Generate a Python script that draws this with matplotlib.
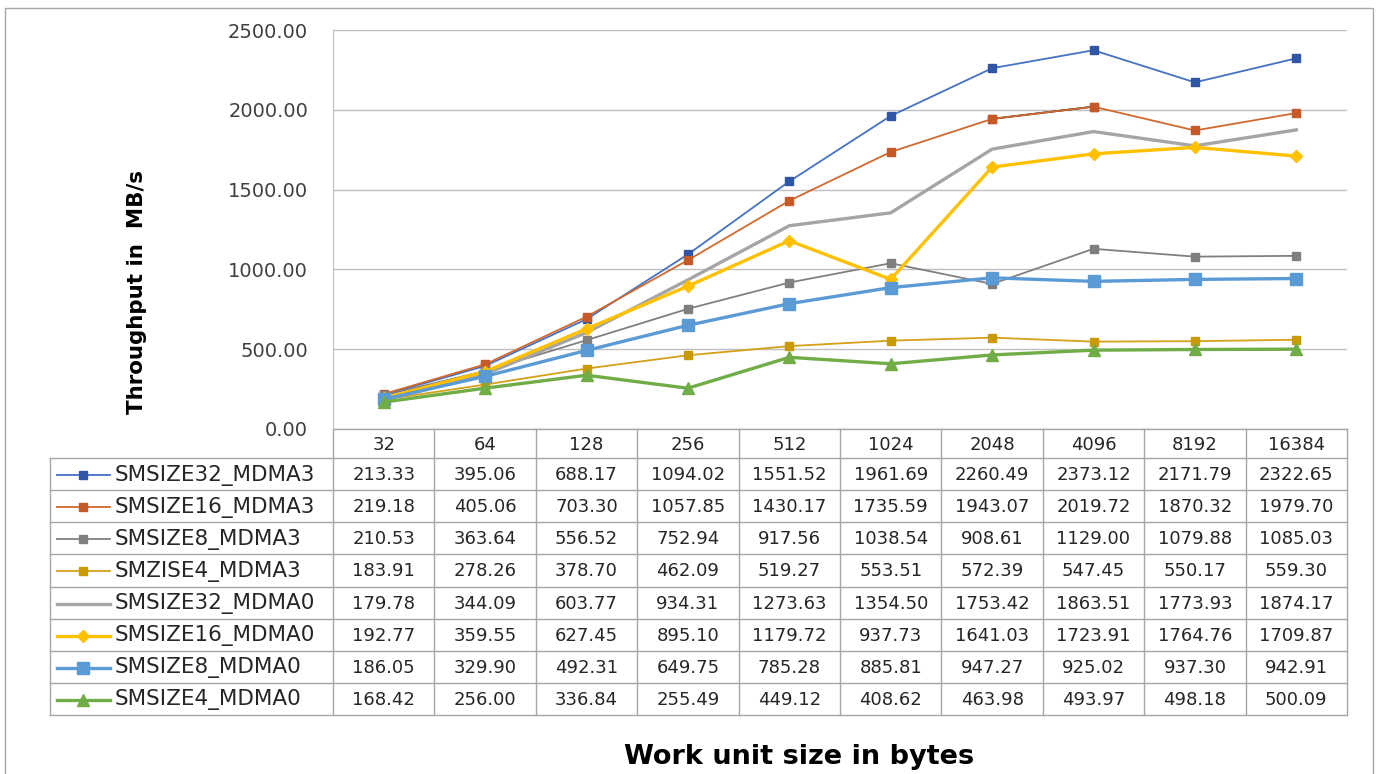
import matplotlib
matplotlib.use("Agg")
import matplotlib.pyplot as plt
from matplotlib.lines import Line2D
from matplotlib.patches import Rectangle

plt.rcParams['font.family'] = ['DejaVu Sans']

sizes = ['32', '64', '128', '256', '512', '1024', '2048', '4096', '8192', '16384']
names = ['SMSIZE32_MDMA3', 'SMSIZE16_MDMA3', 'SMSIZE8_MDMA3', 'SMZISE4_MDMA3',
         'SMSIZE32_MDMA0', 'SMSIZE16_MDMA0', 'SMSIZE8_MDMA0', 'SMSIZE4_MDMA0']

smsize32_mdma3 = [213.33, 395.06, 688.17, 1094.02, 1551.52, 1961.69, 2260.49, 2373.12, 2171.79, 2322.65]
smsize16_mdma3 = [219.18, 405.06, 703.30, 1057.85, 1430.17, 1735.59, 1943.07, 2019.72, 1870.32, 1979.70]
smsize8_mdma3 = [210.53, 363.64, 556.52, 752.94, 917.56, 1038.54, 908.61, 1129.00, 1079.88, 1085.03]
smzise4_mdma3 = [183.91, 278.26, 378.70, 462.09, 519.27, 553.51, 572.39, 547.45, 550.17, 559.30]
smsize32_mdma0 = [179.78, 344.09, 603.77, 934.31, 1273.63, 1354.50, 1753.42, 1863.51, 1773.93, 1874.17]
smsize16_mdma0 = [192.77, 359.55, 627.45, 895.10, 1179.72, 937.73, 1641.03, 1723.91, 1764.76, 1709.87]
smsize8_mdma0 = [186.05, 329.90, 492.31, 649.75, 785.28, 885.81, 947.27, 925.02, 937.30, 942.91]
smsize4_mdma0 = [168.42, 256.00, 336.84, 255.49, 449.12, 408.62, 463.98, 493.97, 498.18, 500.09]

series = [smsize32_mdma3, smsize16_mdma3, smsize8_mdma3, smzise4_mdma3,
          smsize32_mdma0, smsize16_mdma0, smsize8_mdma0, smsize4_mdma0]

# line colour, marker, marker size, line width, marker colour
styles = [
    ('#4472C4', 's', 6, 1.3, '#2F55A4'),
    ('#D2692E', 's', 6, 1.3, '#C55A28'),
    ('#808080', 's', 6, 1.3, '#7F7F7F'),
    ('#D4A017', 's', 6, 1.3, '#C99A06'),
    ('#A5A5A5', None, 0, 2.4, '#A5A5A5'),
    ('#FFC000', 'D', 6.5, 2.4, '#FFC000'),
    ('#5B9BD5', 's', 8.5, 2.4, '#5B9BD5'),
    ('#70AD47', '^', 8.5, 2.4, '#70AD47'),
]

W, H = 1378, 774
fig = plt.figure(figsize=(W / 100, H / 100), dpi=100)


def fx(px):
    return px / W


def fy(py):
    return 1 - py / H


# outer chart border
fig.patches.append(Rectangle((fx(5), fy(790)), fx(1373) - fx(5), fy(8) - fy(790),
                             transform=fig.transFigure, fill=False,
                             edgecolor='#A6A6A6', linewidth=1.0))

left, right, top, bottom = 333, 1347, 30, 429
ax = fig.add_axes([fx(left), fy(bottom), fx(right) - fx(left), fy(top) - fy(bottom)])
x = list(range(len(sizes)))

for i, (vals, (lc, mk, ms, lw, mc)) in enumerate(zip(series, styles)):
    ax.plot(x, vals, color=lc, lw=lw, marker=mk, markersize=ms,
            markerfacecolor=mc, markeredgecolor=mc, zorder=3 + i)
# one segment of SMSIZE16_MDMA3 is drawn in black
ax.plot(x[6:8], smsize16_mdma3[6:8], color='black', lw=1.3, zorder=3.5)
ax.plot(x[6:8], smsize16_mdma3[6:8], color='none', marker='s', markersize=6,
        markerfacecolor='#C55A28', markeredgecolor='#C55A28', zorder=3.6)

ax.set_xlim(-0.5, len(sizes) - 0.5)
ax.set_ylim(0, 2500)
ax.set_yticks(range(0, 2501, 500))
ax.set_yticklabels([f'{v:.2f}' for v in range(0, 2501, 500)], fontsize=14, color='#404040')
ax.set_xticks([])
ax.tick_params(axis='y', length=0, pad=18)
ax.grid(axis='y', color='#BFBFBF', lw=1.0)
ax.set_axisbelow(True)
for s in ['top', 'right', 'bottom']:
    ax.spines[s].set_visible(False)
ax.spines['left'].set_color('#BFBFBF')
ax.patch.set_visible(False)

# data table below the plot
tab = fig.add_axes([0, 0, 1, 1], zorder=-1)
tab.set_xlim(0, W)
tab.set_ylim(H, 0)
tab.axis('off')

colw = (right - left) / len(sizes)
row_top = 458
row_h = (715 - row_top) / len(names)
gc = '#A6A6A6'
tc = '#262626'

# header row with work unit sizes
tab.plot([left, right], [bottom, bottom], color=gc, lw=1)
for j in range(len(sizes) + 1):
    xl = left + j * colw
    tab.plot([xl, xl], [bottom, 715], color=gc, lw=1)
for j, s in enumerate(sizes):
    tab.text(left + (j + 0.5) * colw, (bottom + row_top) / 2 + 1, s,
             ha='center', va='center', fontsize=13, color=tc)

tab.plot([50, 50], [row_top, 715], color=gc, lw=1)
for r in range(len(names) + 1):
    yl = row_top + r * row_h
    tab.plot([50, right], [yl, yl], color=gc, lw=1)

for r, (name, vals, (lc, mk, ms, lw, mc)) in enumerate(zip(names, series, styles)):
    yc = row_top + (r + 0.5) * row_h + 1
    tab.add_line(Line2D([57, 110], [yc, yc], color=lc, lw=lw))
    if mk:
        tab.add_line(Line2D([83], [yc], marker=mk, markersize=ms, color='none',
                            markerfacecolor=mc, markeredgecolor=mc))
    tab.text(115, yc, name, ha='left', va='center', fontsize=15.5, color=tc)
    for j, v in enumerate(vals):
        tab.text(left + (j + 0.5) * colw, yc, f'{v:.2f}', ha='center', va='center',
                 fontsize=13, color=tc)

fig.text(fx(137), fy(292), 'Throughput in  MB/s', rotation=90, ha='center', va='center',
         fontsize=15.4, fontweight='bold', color='black')
fig.text(fx(799), fy(757), 'Work unit size in bytes', ha='center', va='center',
         fontsize=19.5, fontweight='bold', color='black')

fig.savefig('out.png', dpi=100)
